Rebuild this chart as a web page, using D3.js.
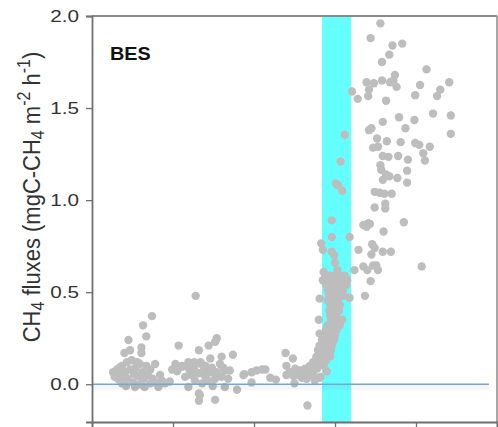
<!DOCTYPE html>
<html>
<head>
<meta charset="utf-8">
<script src="https://cdn.jsdelivr.net/npm/d3@7/dist/d3.min.js"></script>
<style>
  html, body { margin: 0; padding: 0; background: #ffffff; }
  svg { display: block; }
  text { font-family: "Liberation Sans", Arial, sans-serif; }
</style>
</head>
<body>
<svg id="chart" width="498" height="427"></svg>
<script>
// CH4 flux measurements for the BES reactor: [day, flux in mgC-CH4 m-2 h-1]
const startupPhase = [
  [31,0.08],[32,0.06],[26,0.065],[28,0.04],[35,0.02],[40,0.17],[45,0.24],[47,0.185],
  [61,0.20],[61,0.17],[63,0.32],[67,0.26],[74,0.37],[78,0.11],[56,0.12],
  [37,0.10],[43,0.12],[49,0.13],[59,0.11],[67,0.10],[72,0.08],[41,0.065],[47,0.08],
  [54,0.09],[62,0.065],[69,0.05],[75,0.03],[37,0.005],[44,0.03],[51,0.01],[57,0.045],
  [53,-0.015],[65,-0.015],[59,0.0],[72,0.005],[82,-0.015],[86,0.02],[78,0.01],[90,0.005],
  [96,0.015],[42,-0.01],[32,0.03],[84,0.05],[34,0.09],[52,0.055],[64,0.03],[39,0.04]
];

const lowFluxPhase = [
  [99,0.08],[105,0.07],[107,0.21],[111,0.10],[119,0.12],[126,0.12],[134,0.12],[140,0.10],
  [115,0.04],[123,0.05],[132,0.06],[119,-0.015],[132,-0.05],[132,-0.09],[128,0.48],
  [132,0.185],[144,0.21],[152,0.23],[154,0.25],[135,0.11],[140,0.09],[137,0.07],[140,0.04],
  [126,0.09],[121,0.07],[127,0.02],[136,0.005],[143,0.02],[146,0.065],[148,0.09],[146,0.14],
  [158,0.11],[162,0.09],[164,0.075],[170,0.075],[160,0.04],[160,0.15],[174,0.16],[187,0.05],
  [164,-0.015],[179,-0.03],[152,-0.085],[133,-0.06],[168,0.03],[154,0.065],[188,0.055],
  [152,0.03],[149,-0.01],[111,0.095],[103,0.11],[117,0.095]
];

const transitionPhase = [
  [197,0.065],[203,0.075],[210,0.08],[214,0.08],[220,0.035],[227,0.025],[197,0.01],
  [239,0.17],[248,0.14],[240,0.10],[251,0.085],[257,0.075],[263,0.085],[269,0.10],
  [273,0.12],[277,0.15],[240,0.05],[249,0.045],[255,0.05],[259,0.035],[265,0.03],
  [271,0.05],[273,0.06],[281,0.035],[290,0.07],[250,0.005],[266,-0.115],[244,0.065],
  [260,0.065],[268,0.07],[278,0.085],[282,0.04],[275,0.02]
];

const feedingPhase = [
  [281,0.465],[280,0.35],[281,0.275],[283,0.765],[285,0.73],[296,0.89],[296,0.80],
  [318,0.80],[296,0.72],[299,0.70],[300,0.66],[303,0.62],[286,0.61],[301,1.09],
  [304,1.08],[309,1.05],[307,1.21],[312,1.355],[318,0.47],[294,0.15],
  [288,0.59],[294,0.59],[300,0.59],[306,0.59],[312,0.59],
  [285,0.565],[291,0.565],[298,0.565],[304,0.565],[310,0.565],[315,0.565],
  [289,0.54],[295,0.54],[301,0.54],[307,0.54],[314,0.54],
  [291,0.51],[298,0.51],[304,0.51],[310,0.51],
  [293,0.48],[299,0.48],[305,0.48],[311,0.48],
  [291,0.455],[298,0.455],[304,0.455],
  [294,0.43],[300,0.43],[306,0.43],
  [293,0.40],[299,0.40],[305,0.40],
  [294,0.375],[301,0.375],
  [295,0.35],[302,0.35],[309,0.35],
  [291,0.32],[299,0.32],[306,0.32],
  [289,0.295],[296,0.295],[302,0.295],
  [285,0.265],[293,0.265],[300,0.265],
  [284,0.24],[291,0.24],[299,0.24],
  [281,0.21],[289,0.21],[296,0.21],
  [279,0.185],[288,0.185],[295,0.185],
  [284,0.16],[291,0.16],
  [281,0.13],[289,0.13],
  [279,0.10],[286,0.10]
];

const highFluxPhase = [
  [329,0.73],[335,0.865],[339,0.855],[341,0.875],[343,0.87],[360,0.83],[385,0.88],
  [346,0.76],[349,0.74],[345,0.705],[359,0.72],[369,0.72],[324,0.62],[335,0.64],
  [340,0.62],[347,0.645],[353,0.62],[351,0.645],[344,0.56],[337,0.48],[407,0.64],
  [349,0.96],[362,0.98],[362,0.955],[349,1.045],[355,1.04],[361,1.035],[370,1.035],
  [363,1.14],[367,1.13],[359,1.11],[377,1.12],[389,1.095],[389,1.16],[356,1.19],
  [357,1.165],[359,1.24],[366,1.235],[378,1.24],[390,1.22],[399,1.31],[404,1.30],
  [417,1.29],[409,1.255],[411,1.215],[347,1.285],[353,1.29],[352,1.335],[364,1.32],
  [381,1.315],[342,1.38],[345,1.39],[359,1.425],[387,1.39],[379,1.45],[398,1.435],
  [421,1.47],[443,1.46],[443,1.36],[321,1.59],[328,1.55],[339,1.64],[348,1.635],
  [358,1.65],[368,1.64],[372,1.65],[374,1.68],[376,1.615],[342,1.60],[341,1.565],
  [363,1.54],[405,1.625],[441,1.64],[430,1.60],[426,1.565],[399,1.57],[413,1.71],
  [358,1.75],[367,1.79],[371,1.84],[383,1.85],[344,1.88],[356,1.96]
];

// Period shaded in cyan, in days
const shadedPeriod = [284, 320];
// Zero reference line extent, in days
const zeroLineDays = [0, 490];

const yTicks = [0, 0.5, 1.0, 1.5, 2.0];
const xTicks = [0, 100, 200, 300, 400, 500];

const svg = d3.select("#chart");
const margin = { left: 92, right: 1, top: 16, bottom: 5 };
const W = 498, H = 427;
const textStretch = 1.22; // horizontal widening of the tick lettering

const x = d3.scaleLinear().domain([0, 500]).range([margin.left, W - margin.right]);
const y = d3.scaleLinear().domain([-0.205, 2.0]).range([H - margin.bottom, margin.top]);

// shaded period
svg.append("rect")
  .attr("x", x(shadedPeriod[0]))
  .attr("y", y(2.0))
  .attr("width", x(shadedPeriod[1]) - x(shadedPeriod[0]))
  .attr("height", y(-0.205) - y(2.0))
  .attr("fill", "#66ffff");

// frame (top and right)
svg.append("line")
  .attr("x1", x(0)).attr("x2", x(500))
  .attr("y1", y(2.0)).attr("y2", y(2.0))
  .attr("stroke", "#8a8a8a").attr("stroke-width", 2);
svg.append("line")
  .attr("x1", x(500)).attr("x2", x(500))
  .attr("y1", y(2.0)).attr("y2", y(-0.205))
  .attr("stroke", "#8a8a8a").attr("stroke-width", 1.5);

// points
const allPoints = [].concat(startupPhase, lowFluxPhase, transitionPhase, feedingPhase, highFluxPhase);
svg.append("g")
  .selectAll("circle")
  .data(allPoints)
  .join("circle")
  .attr("cx", d => x(d[0]))
  .attr("cy", d => y(d[1]))
  .attr("r", 4.2)
  .attr("fill", "#bdbdbd");

// zero line with a faint shadow
svg.append("line")
  .attr("x1", x(zeroLineDays[0])).attr("x2", x(zeroLineDays[1]))
  .attr("y1", y(0) + 3).attr("y2", y(0) + 3)
  .attr("stroke", "#000").attr("stroke-opacity", 0.04).attr("stroke-width", 5);
svg.append("line")
  .attr("x1", x(zeroLineDays[0])).attr("x2", x(zeroLineDays[1]))
  .attr("y1", y(0)).attr("y2", y(0))
  .attr("stroke", "#7ba3d6").attr("stroke-width", 1.6);

// axes
const yAxis = d3.axisLeft(y).tickValues(yTicks).tickFormat(d3.format(".1f")).tickSize(6).tickPadding(7);
const gy = svg.append("g").attr("transform", `translate(${margin.left},0)`).call(yAxis);
gy.select(".domain").attr("stroke", "#6f6f6f").attr("stroke-width", 1.8);
gy.selectAll(".tick line").attr("stroke", "#6f6f6f").attr("stroke-width", 1.3);
gy.selectAll(".tick text")
  .attr("fill", "#333")
  .attr("x", -13 / textStretch)
  .attr("transform", `scale(${textStretch},1)`)
  .style("font-size", "17px");

const xAxis = d3.axisBottom(x).tickValues(xTicks).tickFormat("").tickSize(6);
const gx = svg.append("g").attr("transform", `translate(0,${y(-0.205)})`).call(xAxis);
gx.select(".domain").attr("stroke", "#6f6f6f").attr("stroke-width", 1.8);
gx.selectAll(".tick line").attr("stroke", "#6f6f6f").attr("stroke-width", 1.3);

// panel label
svg.append("text")
  .attr("transform", `translate(110,60) scale(1.1,1)`)
  .attr("font-weight", "bold")
  .style("font-size", "18px")
  .attr("fill", "#111")
  .text("BES");

// y-axis title with sub/superscripts
const yt = svg.append("text")
  .attr("transform", `translate(40,${(y(2.0) + y(-0.205)) / 2 - 22}) scale(1.1,1) rotate(-90)`)
  .attr("text-anchor", "middle")
  .style("font-size", "22px")
  .attr("fill", "#333");
yt.append("tspan").text("CH");
yt.append("tspan").attr("dy", 4).style("font-size", "16px").text("4");
yt.append("tspan").attr("dy", -4).text(" fluxes (mgC-CH");
yt.append("tspan").attr("dy", 4).style("font-size", "16px").text("4");
yt.append("tspan").attr("dy", -4).text(" m");
yt.append("tspan").attr("dy", -9).style("font-size", "16px").text("-2");
yt.append("tspan").attr("dy", 9).text(" h");
yt.append("tspan").attr("dy", -9).style("font-size", "16px").text("-1");
yt.append("tspan").attr("dy", 9).text(")");
</script>
</body>
</html>
